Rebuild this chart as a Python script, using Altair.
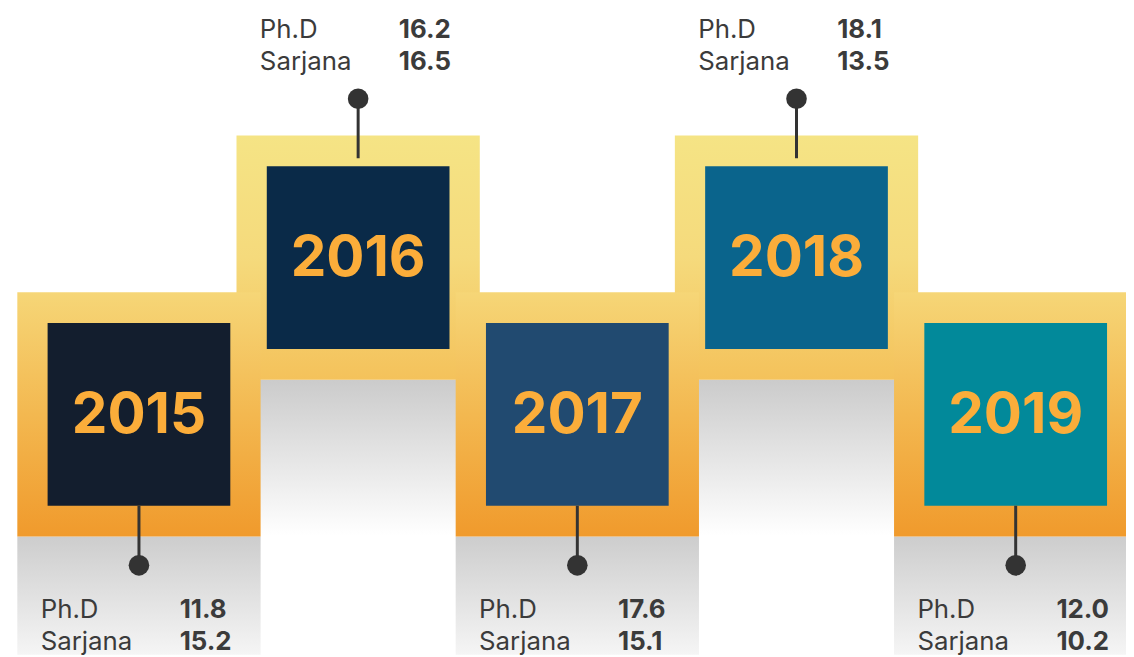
import altair as alt
import pandas as pd

# ---- data ----
years = [2015, 2016, 2017, 2018, 2019]
phd = [11.8, 16.2, 17.6, 18.1, 12.0]
sarjana = [15.2, 16.5, 15.1, 13.5, 10.2]
box_colors = ["#131e2e", "#0a2a48", "#214a70", "#0a648c", "#02899a"]

df = pd.DataFrame({"year": years, "phd": phd, "sarjana": sarjana,
                   "idx": list(range(len(years)))})

W, H = 1126, 649
xs = alt.Scale(domain=[2014.4025, 2019.5033], nice=False, zero=False)
ys = alt.Scale(domain=[0, H], nice=False, zero=False, reverse=True)

FONT = "Inter"
TXT = "#3b3b3b"

base = alt.Chart(df).transform_calculate(
    hi="datum.idx % 2",
    cy="datum.idx % 2 == 1 ? 249 : 407",
    fx1="datum.year - 0.555", fx2="datum.year + 0.555",
    ix1="datum.year - 0.4168", ix2="datum.year + 0.4168",
    fy1="datum.cy - 123", fy2="datum.cy + 123",
    iy1="datum.cy - 92", iy2="datum.cy + 92",
    doty="datum.hi == 1 ? datum.cy - 160 : datum.cy + 152",
    lend="datum.hi == 1 ? datum.cy - 100 : datum.cy + 92",
    phdy="datum.hi == 1 ? 28 : 612",
    sary="datum.phdy + 32",
    lx="datum.year - 0.4485", vx="datum.year + 0.1857",
    sh1="datum.cy + 123",
    sh2="datum.hi == 1 ? datum.cy + 280 : 649",
)

def X(f):
    return alt.X(f + ":Q", scale=xs, axis=None)

def Y(f):
    return alt.Y(f + ":Q", scale=ys, axis=None)

def grad(c0, c1, mid=None):
    stops = [alt.GradientStop(color=c0, offset=0)]
    if mid:
        stops.append(alt.GradientStop(color=mid, offset=0.5))
    stops.append(alt.GradientStop(color=c1, offset=1))
    return alt.Gradient(gradient="linear", stops=stops, x1=0, x2=0, y1=0, y2=1)

hi_shadow = base.transform_filter("datum.hi == 1").mark_rect(
    color=grad("#cbcbcb", "#ffffff")).encode(
    x=X("fx1"), x2="fx2:Q", y=Y("sh1"), y2="sh2:Q")
lo_shadow = base.transform_filter("datum.hi == 0").mark_rect(
    color=grad("#cdcdcd", "#f5f5f5")).encode(
    x=X("fx1"), x2="fx2:Q", y=Y("sh1"), y2="sh2:Q")

hi_frame = base.transform_filter("datum.hi == 1").mark_rect(
    color=grad("#f5e485", "#f4c25b", "#f5da7c")).encode(
    x=X("fx1"), x2="fx2:Q", y=Y("fy1"), y2="fy2:Q")
lo_frame = base.transform_filter("datum.hi == 0").mark_rect(
    color=grad("#f6d677", "#f09a2c", "#f3b850")).encode(
    x=X("fx1"), x2="fx2:Q", y=Y("fy1"), y2="fy2:Q")

inner = base.mark_rect().encode(
    x=X("ix1"), x2="ix2:Q", y=Y("iy1"), y2="iy2:Q",
    color=alt.Color("year:N", scale=alt.Scale(domain=years, range=box_colors),
                    legend=None))

year_txt = base.mark_text(font=FONT, fontSize=57, fontWeight="bold",
                          color="#fbad3a", baseline="middle", dy=2).encode(
    x=X("year"), y=Y("cy"), text=alt.Text("year:Q", format="d"))

rule = base.mark_rule(color="#333333", strokeWidth=3).encode(
    x=X("year"), y=Y("doty"), y2="lend:Q")
dot = base.mark_circle(color="#333333", opacity=1, size=430).encode(
    x=X("year"), y=Y("doty"))

lab_phd = base.mark_text(text="Ph.D", font=FONT, fontSize=26, color=TXT,
                         align="left", baseline="alphabetic").encode(
    x=X("lx"), y=Y("phdy"))
lab_sar = base.mark_text(text="Sarjana", font=FONT, fontSize=26, color=TXT,
                         align="left", baseline="alphabetic").encode(
    x=X("lx"), y=Y("sary"))
val_phd = base.mark_text(font=FONT, fontSize=26, fontWeight="bold", color=TXT,
                         align="left", baseline="alphabetic").encode(
    x=X("vx"), y=Y("phdy"), text=alt.Text("phd:Q", format=".1f"))
val_sar = base.mark_text(font=FONT, fontSize=26, fontWeight="bold", color=TXT,
                         align="left", baseline="alphabetic").encode(
    x=X("vx"), y=Y("sary"), text=alt.Text("sarjana:Q", format=".1f"))

chart = alt.layer(hi_shadow, lo_shadow, hi_frame, lo_frame, inner, year_txt,
                  rule, dot, lab_phd, lab_sar, val_phd, val_sar).properties(
    width=W, height=H,
    autosize=alt.AutoSizeParams(type="none"),
    padding=0,
    background="#ffffff",
).configure_view(stroke=None)

chart.save("out.html", embed_options={"renderer": "svg", "actions": False})
